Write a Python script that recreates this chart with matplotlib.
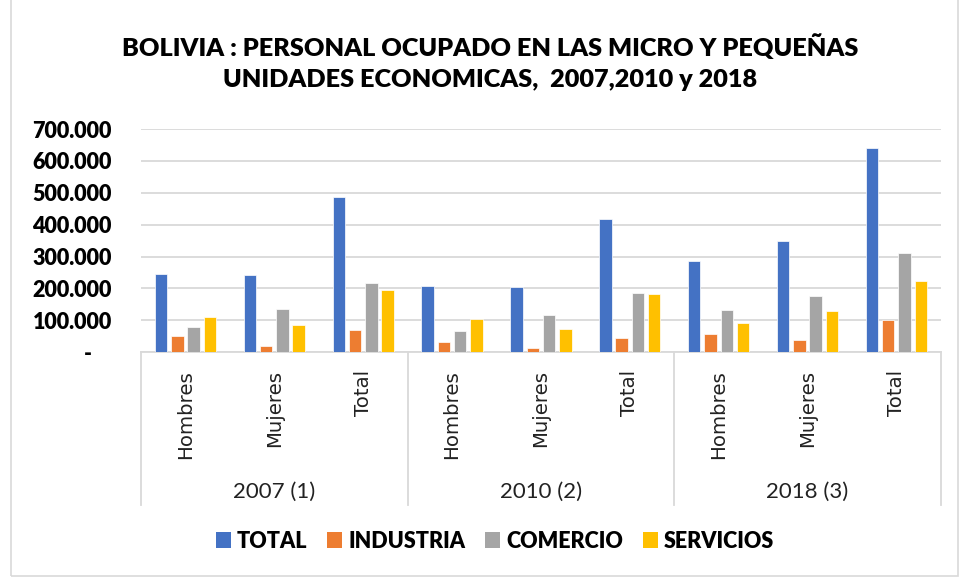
import numpy as np
import matplotlib.pyplot as plt
from matplotlib.patches import Rectangle, Patch
from matplotlib.ticker import FuncFormatter

# datos
years = ['2007 (1)', '2010 (2)', '2018 (3)']
groups = ['Hombres', 'Mujeres', 'Total']
series = ['TOTAL', 'INDUSTRIA', 'COMERCIO', 'SERVICIOS']

total = [244500, 242000, 488000, 209000, 205000, 417000, 287000, 349000, 640000]
industria = [50000, 19000, 71000, 32000, 12500, 46000, 57000, 40000, 100000]
comercio = [79000, 135000, 216000, 67000, 116000, 185000, 133000, 177000, 311000]
servicios = [110000, 84000, 196000, 105000, 73000, 182000, 93000, 129000, 224000]

colors = ['#4472C4', '#ED7D31', '#A5A5A5', '#FFC000']
values = [total, industria, comercio, servicios]

fig = plt.figure(figsize=(9.61, 5.78), dpi=100)
ax = fig.add_axes([0.1467, 0.3905, 0.8323, 0.3863])

x = np.arange(len(total))
width = 0.14
pitch = 0.183
for i, (vals, c) in enumerate(zip(values, colors)):
    ax.bar(x + (i - 1.5) * pitch, vals, width=width, color=c,
           edgecolor='white', linewidth=0.5, zorder=3)

ax.set_xlim(-0.5, len(total) - 0.5)
ax.set_ylim(0, 700000)
ax.set_yticks(np.arange(0, 700001, 100000))


def fmt(v, pos):
    if v == 0:
        return '-    '
    return f'{int(v):,}'.replace(',', '.')


ax.yaxis.set_major_formatter(FuncFormatter(fmt))
ax.tick_params(axis='y', length=0, pad=21)
for lab in ax.get_yticklabels():
    lab.set_fontfamily('Lato')
    lab.set_fontweight('heavy')
    lab.set_fontsize(15.5)
ax.set_xticks([])
ax.grid(axis='y', color='#d9d9d9', linewidth=1.3, zorder=0)
for s in ['top', 'right', 'left']:
    ax.spines[s].set_visible(False)
ax.spines['bottom'].set_color('#d9d9d9')
ax.spines['bottom'].set_linewidth(1.3)

# etiquetas de categoría en dos niveles
tr = ax.get_xaxis_transform()
for k in range(len(total)):
    ax.text(k, -0.079, groups[k % 3], rotation=90, ha='center', va='top',
            transform=tr, fontsize=14.2, fontfamily='DejaVu Sans', color='#222222')
for j, yr in enumerate(years):
    ax.text(3 * j + 1, -0.626, yr, ha='center', va='center', transform=tr,
            fontsize=16, fontfamily='Lato', color='#222222')
for b in [-0.5, 2.5, 5.5, 8.5]:
    ax.plot([b, b], [0, -0.684], transform=tr, color='#d9d9d9',
            linewidth=1.3, clip_on=False)

fig.text(0.51, 0.918, 'BOLIVIA : PERSONAL OCUPADO EN LAS MICRO Y PEQUEÑAS',
         ha='center', va='center', fontsize=18.2, fontweight='heavy', fontfamily='Lato')
fig.text(0.51, 0.862, 'UNIDADES ECONOMICAS,  2007,2010 y 2018',
         ha='center', va='center', fontsize=18.2, fontweight='heavy', fontfamily='Lato')

handles = [Patch(facecolor=c, label=s) for c, s in zip(colors, series)]
fig.legend(handles=handles, loc='center', bbox_to_anchor=(495 / 961, 1 - 541 / 578),
           ncol=4, frameon=False, handlelength=0.7, handleheight=0.7,
           handletextpad=0.3, columnspacing=0.9,
           prop={'family': 'Lato', 'weight': 'heavy', 'size': 15.5})

fig.patches.append(Rectangle((0.011, 0.004), 0.986, 1.2, transform=fig.transFigure,
                             fill=False, edgecolor='#d9d9d9', linewidth=1.2))

plt.savefig('out.png', dpi=100)
